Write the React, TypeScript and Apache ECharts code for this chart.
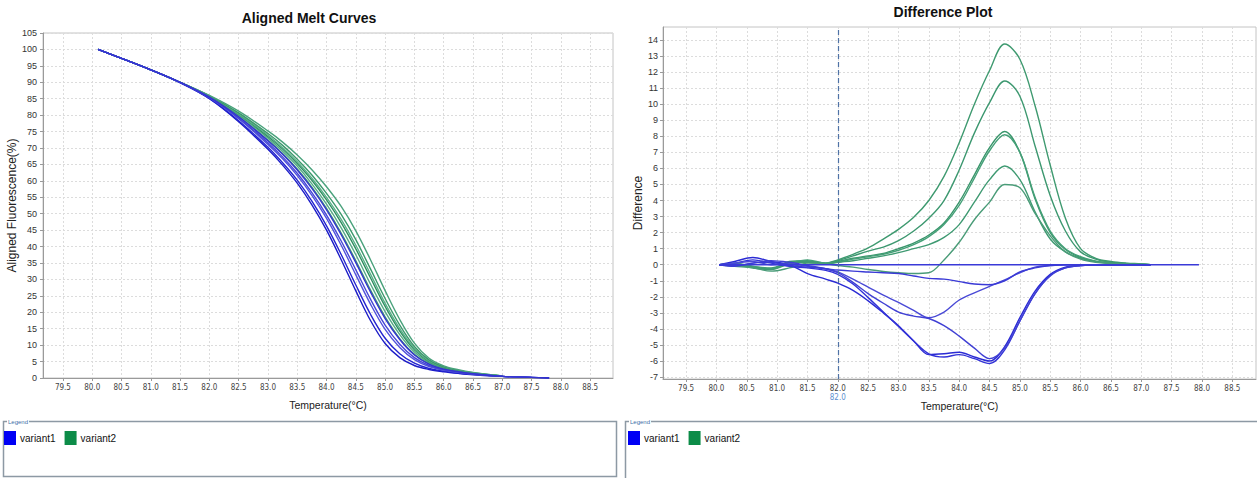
import React, { useEffect, useRef } from "react";
import * as echarts from "echarts";

// ---------- axis ticks ----------
const X_TICKS = [79.5, 80.0, 80.5, 81.0, 81.5, 82.0, 82.5, 83.0, 83.5, 84.0, 84.5, 85.0, 85.5, 86.0, 86.5, 87.0, 87.5, 88.0, 88.5];
const DIFF_Y_TICKS = [-7, -6, -5, -4, -3, -2, -1, 0, 1, 2, 3, 4, 5, 6, 7, 8, 9, 10, 11, 12, 13, 14];

// ---------- Aligned melt curves ----------
const MELT_T = [80.1, 80.5, 81.0, 81.5, 82.0, 82.5, 83.0, 83.25, 83.5, 83.75, 84.0, 84.25, 84.5, 84.75, 85.0, 85.25, 85.5, 85.75, 86.0, 86.25, 86.5, 87.0, 87.5, 87.8];

const meltBlue1 = [100, 97.3, 93.8, 89.9, 85.0, 78.0, 69.6, 64.8, 59.3, 52.7, 45.0, 36.0, 26.5, 17.5, 10.5, 6.2, 3.8, 2.6, 1.9, 1.4, 1.0, 0.5, 0.2, 0.0];
const meltBlue2 = [100, 97.3, 93.8, 89.9, 85.1, 78.3, 70.2, 65.5, 60.2, 53.8, 46.3, 37.6, 28.3, 19.4, 12.1, 7.4, 4.5, 2.9, 2.1, 1.5, 1.1, 0.5, 0.2, 0.0];
const meltBlue3 = [100, 97.3, 93.8, 89.9, 85.3, 78.9, 71.1, 66.7, 61.6, 55.6, 48.6, 40.4, 31.4, 22.5, 14.8, 9.3, 5.6, 3.5, 2.4, 1.7, 1.2, 0.5, 0.2];
const meltBlue4 = [100, 97.3, 93.8, 90.0, 85.4, 79.1, 71.6, 67.3, 62.3, 56.4, 49.6, 41.7, 32.9, 24.0, 16.1, 10.3, 6.2, 3.8, 2.5, 1.8, 1.2, 0.5, 0.2];
const meltBlue5 = [100, 97.3, 93.8, 90.0, 85.5, 79.5, 72.2, 68.1, 63.3, 57.7, 51.2, 43.6, 35.1, 26.2, 18.1, 11.7, 7.0, 4.2, 2.7, 1.9, 1.3, 0.5, 0.2, 0.0];

const meltGreen1 = [100, 97.3, 93.8, 90.0, 85.5, 79.6, 72.4, 68.3, 63.6, 58.1, 51.6, 44.1, 35.7, 26.8, 18.6, 12.0, 7.2, 4.3, 2.8, 2.0, 1.4, 0.6];
const meltGreen2 = [100, 97.3, 93.8, 90.0, 85.6, 79.9, 73.0, 69.0, 64.5, 59.1, 52.9, 45.7, 37.5, 28.6, 20.2, 13.2, 7.9, 4.6, 3.0, 2.1, 1.4, 0.6];
const meltGreen3 = [100, 97.3, 93.8, 90.0, 85.7, 80.2, 73.5, 69.7, 65.3, 60.2, 54.2, 47.3, 39.3, 30.5, 21.8, 14.3, 8.6, 5.0, 3.2, 2.2, 1.5, 0.6];
const meltGreen4 = [100, 97.3, 93.8, 90.0, 85.8, 80.4, 73.9, 70.1, 65.8, 60.8, 55.0, 48.3, 40.4, 31.6, 22.7, 15.0, 9.0, 5.2, 3.3, 2.2, 1.5, 0.6];
const meltGreen5 = [100, 97.3, 93.8, 90.0, 85.9, 80.7, 74.4, 70.8, 66.6, 61.8, 56.2, 49.8, 42.1, 33.2, 24.2, 16.1, 9.6, 5.5, 3.4, 2.3, 1.6, 0.6];
const meltGreen6 = [100, 97.3, 93.8, 90.0, 86.0, 81.2, 75.2, 71.8, 67.9, 63.4, 58.2, 52.2, 44.8, 36.0, 26.6, 17.8, 10.6, 6.0, 3.7, 2.5, 1.7, 0.6];

// ---------- Difference plot ----------
const DIFF_T = [80.05, 80.3, 80.6, 80.9, 81.2, 81.5, 81.8, 82.0, 82.25, 82.5, 82.75, 83.0, 83.25, 83.5, 83.75, 84.0, 84.25, 84.5, 84.75, 85.0, 85.25, 85.5, 85.75, 86.0, 86.25, 86.5, 86.75, 87.0, 87.15];

const diffGreen1 = [0, 0.1, -0.1, -0.2, 0.1, 0.15, 0.1, 0.3, 0.65, 1.05, 1.6, 2.2, 2.95, 4.0, 5.5, 7.6, 10.0, 12.1, 13.75, 12.8, 9.9, 6.2, 2.9, 1.0, 0.4, 0.2, 0.1, 0.05, 0];
const diffGreen2 = [0, 0.05, -0.15, -0.25, 0.15, 0.2, 0.1, 0.25, 0.55, 0.85, 1.1, 1.5, 2.1, 2.9, 4.0, 5.9, 8.2, 10.1, 11.45, 10.5, 7.4, 4.3, 2.1, 0.8, 0.35, 0.15, 0.08, 0.03, 0];
const diffGreen3 = [0, 0.0, -0.2, -0.3, 0.2, 0.25, 0.05, 0.2, 0.4, 0.55, 0.7, 1.0, 1.35, 1.85, 2.6, 3.9, 5.6, 7.3, 8.3, 7.0, 4.1, 2.0, 0.95, 0.45, 0.2, 0.1, 0.05, 0.02, 0];
const diffGreen4 = [0, 0.05, -0.1, -0.25, 0.1, 0.3, 0.1, 0.15, 0.35, 0.5, 0.65, 0.9, 1.25, 1.75, 2.5, 3.7, 5.4, 7.1, 8.1, 7.0, 4.2, 2.1, 1.0, 0.5, 0.22, 0.1, 0.05, 0.02, 0];
const diffGreen5 = [0, -0.05, -0.15, -0.3, 0.05, 0.2, 0.05, 0.15, 0.25, 0.4, 0.55, 0.75, 1.0, 1.25, 1.7, 2.5, 3.9, 5.3, 6.15, 5.3, 3.3, 1.6, 0.8, 0.4, 0.2, 0.1, 0.05, 0.02, 0];
const diffGreen6 = [0, -0.1, -0.2, -0.4, -0.2, 0.1, 0.05, -0.05, -0.15, -0.3, -0.42, -0.5, -0.55, -0.5, 0.3, 1.4, 2.8, 3.9, 5.0, 4.8, 3.2, 1.8, 0.8, 0.35, 0.15, 0.08, 0.04, 0.02, 0];

const diffBlue1 = [0, 0.2, 0.45, 0.2, 0.0, -0.55, -0.9, -1.15, -1.6, -2.25, -3.0, -3.8, -4.75, -5.6, -5.55, -5.45, -5.75, -6.0, -5.1, -3.3, -1.65, -0.6, -0.15, -0.05, 0, 0, 0, 0, 0];
const diffBlue2 = [0, 0.1, 0.3, 0.1, -0.1, -0.2, -0.35, -0.6, -1.2, -2.05, -2.95, -3.85, -4.75, -5.55, -5.75, -5.6, -5.85, -6.15, -5.3, -3.5, -1.8, -0.65, -0.2, -0.05, 0, 0, 0, 0, 0];
const diffBlue3 = [0, 0.1, 0.2, 0.0, 0.05, -0.1, -0.25, -0.45, -0.9, -1.4, -1.9, -2.35, -2.85, -3.3, -2.95, -2.2, -1.75, -1.35, -0.95, -0.5, -0.15, -0.05, 0, 0, 0, 0, 0, 0, 0];
const diffBlue4 = [0, -0.05, 0.1, 0.25, 0.15, -0.05, -0.25, -0.5, -1.1, -1.8, -2.4, -2.95, -3.2, -3.35, -3.8, -4.45, -5.2, -5.85, -5.2, -3.5, -1.8, -0.7, -0.2, -0.05, 0, 0, 0, 0, 0];
const diffBlue5 = [0, -0.1, 0.1, 0.15, -0.05, -0.15, -0.25, -0.33, -0.4, -0.45, -0.5, -0.55, -0.7, -0.85, -0.9, -1.05, -1.2, -1.25, -1.0, -0.45, -0.2, -0.05, 0, 0, 0, 0, 0, 0, 0];

const REF_T = [80.05, 87.95];
const REF_DIFF = [0, 0];
const CURSOR_T = 82.0;

// ---------- styles ----------
const MELT_BLUE_COLORS = ["#1c1cc8", "#2424d0", "#5252dc", "#4646d6", "#3434d0"];
const MELT_GREEN_COLORS = ["#3f9d72", "#55ab86", "#2f8f60", "#5bb08a", "#3b996c", "#4aa27c"];
const DIFF_BLUE_COLORS = ["#2b2bd4", "#3333d8", "#4a4ad6", "#4040d4", "#3a3ad6"];
const DIFF_GREEN_COLORS = ["#3f9a70", "#3d9870", "#3a966c", "#45a078", "#3f9a72", "#4a9c78"];
const LABEL_FONT = "'Liberation Sans', Arial, sans-serif";
const NARROW_FONT = "'Liberation Sans Narrow', 'DejaVu Sans Condensed', 'Liberation Sans', Arial, sans-serif";

const zip = (xs: number[], ys: number[]) => ys.map((y, i) => [xs[i], y]);

function lineSeries(name: string, xs: number[], ys: number[], color: string, axis: number, z: number) {
  return {
    type: "line",
    name,
    xAxisIndex: axis,
    yAxisIndex: axis,
    data: zip(xs, ys),
    showSymbol: false,
    symbol: "none",
    smooth: 0.35,
    lineStyle: { color, width: 1.4 },
    itemStyle: { color },
    z,
    silent: true,
  };
}

function xAxisCfg(grid: number, min: number, max: number) {
  return {
    type: "value",
    gridIndex: grid,
    min,
    max,
    name: "Temperature(°C)",
    nameLocation: "middle",
    nameGap: 21,
    nameTextStyle: { fontSize: 10.5, color: "#222", fontFamily: LABEL_FONT },
    axisLine: { show: true, onZero: false, lineStyle: { color: "#9a9a9a", width: 1 } },
    axisTick: { show: true, customValues: X_TICKS, length: 3, lineStyle: { color: "#9a9a9a" } },
    axisLabel: {
      customValues: X_TICKS,
      formatter: (v: number) => v.toFixed(1),
      fontSize: 8,
      color: "#444",
      margin: 5,
      fontFamily: NARROW_FONT,
    },
    splitLine: { show: true, lineStyle: { color: "#dcdcdc", type: [2, 2], width: 1 } },
  };
}

export default function App() {
  const ref = useRef<HTMLDivElement>(null);

  useEffect(() => {
    const chart = echarts.init(ref.current!, null, { renderer: "svg" });

    const meltBlues = [meltBlue1, meltBlue2, meltBlue3, meltBlue4, meltBlue5];
    const meltGreens = [meltGreen1, meltGreen2, meltGreen3, meltGreen4, meltGreen5, meltGreen6];
    const diffBlues = [diffBlue1, diffBlue2, diffBlue3, diffBlue4, diffBlue5];
    const diffGreens = [diffGreen1, diffGreen2, diffGreen3, diffGreen4, diffGreen5, diffGreen6];

    const series: any[] = [];
    meltGreens.forEach((d, i) => series.push(lineSeries("variant2", MELT_T, d, MELT_GREEN_COLORS[i], 0, 2)));
    meltBlues.forEach((d, i) => series.push(lineSeries("variant1", MELT_T, d, MELT_BLUE_COLORS[i], 0, 3)));
    diffGreens.forEach((d, i) => series.push(lineSeries("variant2", DIFF_T, d, DIFF_GREEN_COLORS[i], 1, 2)));
    diffBlues.forEach((d, i) => series.push(lineSeries("variant1", DIFF_T, d, DIFF_BLUE_COLORS[i], 1, 3)));
    const refSeries: any = lineSeries("variant1", REF_T, REF_DIFF, "#3a3ad8", 1, 4);
    refSeries.smooth = false;
    refSeries.lineStyle.width = 1.6;
    refSeries.markLine = {
      silent: true,
      symbol: ["none", "none"],
      animation: false,
      data: [{ xAxis: CURSOR_T }],
      lineStyle: { color: "#4f72a6", type: [5, 3], width: 1.2 },
      label: {
        show: true,
        position: "start",
        formatter: CURSOR_T.toFixed(1),
        color: "#5d8fcf",
        fontSize: 8,
        distance: 14,
        fontFamily: NARROW_FONT,
      },
    };
    series.push(refSeries);

    const legendItem = (bottomLeft: number, top: number) => ({
      show: true,
      left: bottomLeft,
      top,
      orient: "horizontal",
      icon: "rect",
      itemWidth: 12,
      itemHeight: 14,
      itemGap: 9,
      padding: 0,
      selectedMode: false,
      textStyle: { fontSize: 10, color: "#111", fontFamily: LABEL_FONT, padding: [0, 0, 0, -1] },
      data: [
        { name: "variant1", itemStyle: { color: "#0000f5", borderWidth: 0 } },
        { name: "variant2", itemStyle: { color: "#0c8c48", borderWidth: 0 } },
      ],
    });

    const option: any = {
      animation: false,
      backgroundColor: "#ffffff",
      textStyle: { fontFamily: LABEL_FONT },
      grid: [
        { left: 43, top: 33, width: 570, height: 345, show: true, borderColor: "#c4c4c4", borderWidth: 1, backgroundColor: "#fff" },
        { left: 663, top: 27, width: 593, height: 352, show: true, borderColor: "#c4c4c4", borderWidth: 1, backgroundColor: "#fff" },
      ],
      xAxis: [xAxisCfg(0, 79.16, 88.89), xAxisCfg(1, 79.12, 88.89)],
      yAxis: [
        {
          type: "value",
          gridIndex: 0,
          min: 0,
          max: 105,
          interval: 5,
          name: "Aligned Fluorescence(%)",
          nameLocation: "middle",
          nameGap: 24,
          nameTextStyle: { fontSize: 12, color: "#222", fontFamily: LABEL_FONT },
          axisLine: { show: true, lineStyle: { color: "#9a9a9a" } },
          axisTick: { show: true, length: 3, lineStyle: { color: "#9a9a9a" } },
          axisLabel: { fontSize: 9, color: "#333", margin: 6, fontFamily: LABEL_FONT },
          splitLine: { show: true, lineStyle: { color: "#dcdcdc", type: [2, 2], width: 1 } },
        },
        {
          type: "value",
          gridIndex: 1,
          min: -7.12,
          max: 14.81,
          name: "Difference",
          nameLocation: "middle",
          nameGap: 17,
          nameTextStyle: { fontSize: 12, color: "#222", fontFamily: LABEL_FONT },
          axisLine: { show: true, onZero: false, lineStyle: { color: "#9a9a9a" } },
          axisTick: { show: true, customValues: DIFF_Y_TICKS, length: 3, lineStyle: { color: "#9a9a9a" } },
          axisLabel: { customValues: DIFF_Y_TICKS, fontSize: 9, color: "#333", margin: 5, fontFamily: LABEL_FONT },
          splitLine: { show: true, lineStyle: { color: "#dcdcdc", type: [2, 2], width: 1 } },
        },
      ],
      legend: [legendItem(4, 431), legendItem(628, 431)],
      graphic: [
        {
          type: "text",
          x: 309,
          y: 18,
          style: { text: "Aligned Melt Curves", font: "bold 14px 'Liberation Sans', Arial, sans-serif", fill: "#111", align: "center", verticalAlign: "middle" },
        },
        {
          type: "text",
          x: 943,
          y: 12,
          style: { text: "Difference Plot", font: "bold 14px 'Liberation Sans', Arial, sans-serif", fill: "#111", align: "center", verticalAlign: "middle" },
        },
        {
          type: "rect",
          shape: { x: 3.5, y: 421.5, width: 613, height: 55 },
          style: { fill: "none", stroke: "#8d99a4", lineWidth: 1.5 },
        },
        {
          type: "rect",
          shape: { x: 625.5, y: 421.5, width: 640, height: 70 },
          style: { fill: "none", stroke: "#8d99a4", lineWidth: 1.5 },
        },
        {
          type: "text",
          x: 7,
          y: 421.5,
          style: { text: "Legend", font: "6px 'Liberation Sans', Arial, sans-serif", fill: "#3d6fa8", backgroundColor: "#fff", padding: [0, 1, 0, 1], verticalAlign: "middle" },
        },
        {
          type: "text",
          x: 629,
          y: 421.5,
          style: { text: "Legend", font: "6px 'Liberation Sans', Arial, sans-serif", fill: "#3d6fa8", backgroundColor: "#fff", padding: [0, 1, 0, 1], verticalAlign: "middle" },
        },
      ],
      series,
    };

    chart.setOption(option);
    return () => chart.dispose();
  }, []);

  return (
    <div
      ref={ref}
      style={{ position: "fixed", left: 0, top: 0, width: 1257, height: 478, background: "#fff" }}
    />
  );
}
